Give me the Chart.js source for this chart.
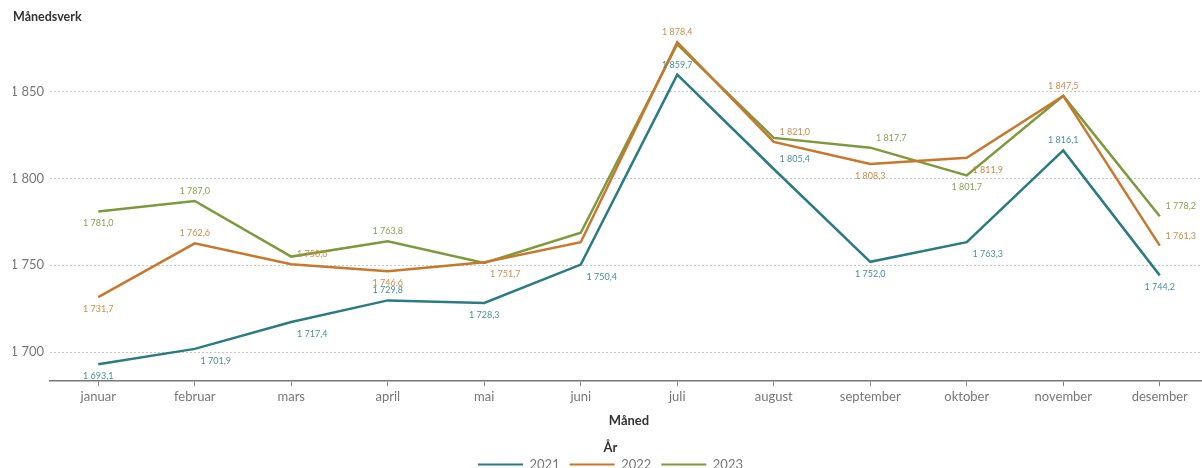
<!DOCTYPE html>
<html>
<head>
<meta charset="utf-8">
<script src="https://cdn.jsdelivr.net/npm/chart.js@4/dist/chart.umd.min.js"></script>
<style>
  html, body { margin: 0; padding: 0; background: #fff; overflow: hidden; }
  #wrap { position: absolute; left: 0; top: 0; width: 1208px; height: 481px; }
</style>
</head>
<body>
<div id="wrap"><canvas id="chart" width="1208" height="481"></canvas></div>
<script>
const months = ['januar', 'februar', 'mars', 'april', 'mai', 'juni', 'juli', 'august', 'september', 'oktober', 'november', 'desember'];
const years = ['2021', '2022', '2023'];

const v2021 = [1693.1, 1701.9, 1717.4, 1729.8, 1728.3, 1750.4, 1859.7, 1805.4, 1752.0, 1763.3, 1816.1, 1744.2];
const v2022 = [1731.7, 1762.6, 1750.6, 1746.6, 1751.7, 1763.3, 1878.4, 1821.0, 1808.3, 1811.9, 1847.5, 1761.3];
const v2023 = [1781.0, 1787.0, 1755.0, 1763.8, 1751.4, 1768.7, 1877.2, 1823.3, 1817.7, 1801.7, 1847.5, 1778.2];

const yTicks = [1700, 1750, 1800, 1850];

// where each value label sits: a = above, b = below, ar/br = shifted right, '' = hidden
const lab2021 = ['b', 'br', 'br', 'a', 'b', 'br', 'a', 'ar', 'b', 'br', 'a', 'b'];
const lab2022 = ['b', 'a', 'ar', 'b', 'br', '', 'a', 'ar', 'b', 'br', 'a', 'ar'];
const lab2023 = ['b', 'a', '', 'a', '', '', '', '', 'ar', 'b', '', 'ar'];

const lineColors = ['#2b7b83', '#c9772c', '#7c9a3b'];
const textColors = ['#4a9198', '#d38b46', '#8aa44f'];

const fmt = (v, dec) => {
  const s = v.toFixed(dec).replace('.', ',');
  const [int, frac] = s.split(',');
  const withSpace = int.replace(/\B(?=(\d{3})+(?!\d))/g, ' ');
  return frac ? withSpace + ',' + frac : withSpace;
};

const valueLabels = {
  id: 'valueLabels',
  afterDatasetsDraw(chart) {
    const ctx = chart.ctx;
    const placements = [lab2021, lab2022, lab2023];
    ctx.save();
    ctx.font = '9px Lato';
    ctx.textAlign = 'center';
    ctx.textBaseline = 'middle';
    chart.data.datasets.forEach((ds, di) => {
      const meta = chart.getDatasetMeta(di);
      meta.data.forEach((pt, i) => {
        const p = placements[di][i];
        if (!p) return;
        let dx = 0, dy = 0;
        if (p[0] === 'a') dy = -10; else dy = 12;
        if (p[1] === 'r') dx = 21;
        ctx.fillStyle = textColors[di];
        ctx.fillText(fmt(ds.data[i], 1), pt.x + dx, pt.y + dy);
      });
    });
    ctx.restore();
  }
};

new Chart(document.getElementById('chart'), {
  type: 'line',
  data: {
    labels: months,
    datasets: [v2021, v2022, v2023].map((d, i) => ({
      label: years[i],
      data: d,
      borderColor: lineColors[i],
      backgroundColor: lineColors[i],
      borderWidth: 2.5,
      pointRadius: 0,
      tension: 0
    }))
  },
  options: {
    responsive: false,
    animation: false,
    layout: { padding: { left: 13, right: 0, top: 0, bottom: 0 } },
    plugins: {
      title: {
        display: true,
        text: 'Månedsverk',
        align: 'start',
        color: '#333',
        font: { family: 'Lato', size: 12.5, weight: 'bold' },
        padding: { top: 9, bottom: -2 }
      },
      legend: {
        position: 'bottom',
        title: {
          display: true,
          text: 'År',
          color: '#333',
          font: { family: 'Lato', size: 13, weight: 'bold' },
          padding: { top: 13, bottom: -9 }
        },
        labels: {
          boxWidth: 45,
          boxHeight: 2,
          padding: 10,
          color: '#777',
          font: { family: 'Lato', size: 13 },
          generateLabels(chart) {
            return chart.data.datasets.map((ds, i) => ({
              text: ds.label,
              fillStyle: ds.borderColor,
              strokeStyle: ds.borderColor,
              lineWidth: 0,
              hidden: false,
              datasetIndex: i,
              fontColor: '#777'
            }));
          }
        }
      },
      tooltip: { enabled: false }
    },
    scales: {
      x: {
        offset: true,
        grid: { drawOnChartArea: false, drawTicks: true, tickLength: 5, color: '#888', offset: false },
        border: { color: '#777', width: 1.5 },
        ticks: { color: '#777', font: { family: 'Lato', size: 13 }, padding: 3 },
        title: {
          display: true,
          text: 'Måned',
          color: '#333',
          font: { family: 'Lato', size: 13, weight: 'bold' },
          padding: { top: 5, bottom: 0 }
        }
      },
      y: {
        min: 1683.3,
        max: 1890,
        afterFit(scale) { scale.width = 37; },
        afterBuildTicks(scale) { scale.ticks = yTicks.map(v => ({ value: v })); },
        grid: { color: '#c8c8c8', drawTicks: false, lineWidth: 1 },
        border: { display: false, dash: [2, 2] },
        ticks: {
          color: '#777',
          padding: 6,
          font: { family: 'Lato', size: 13 },
          callback: v => fmt(v, 0)
        }
      }
    }
  },
  plugins: [valueLabels]
});
</script>
</body>
</html>
